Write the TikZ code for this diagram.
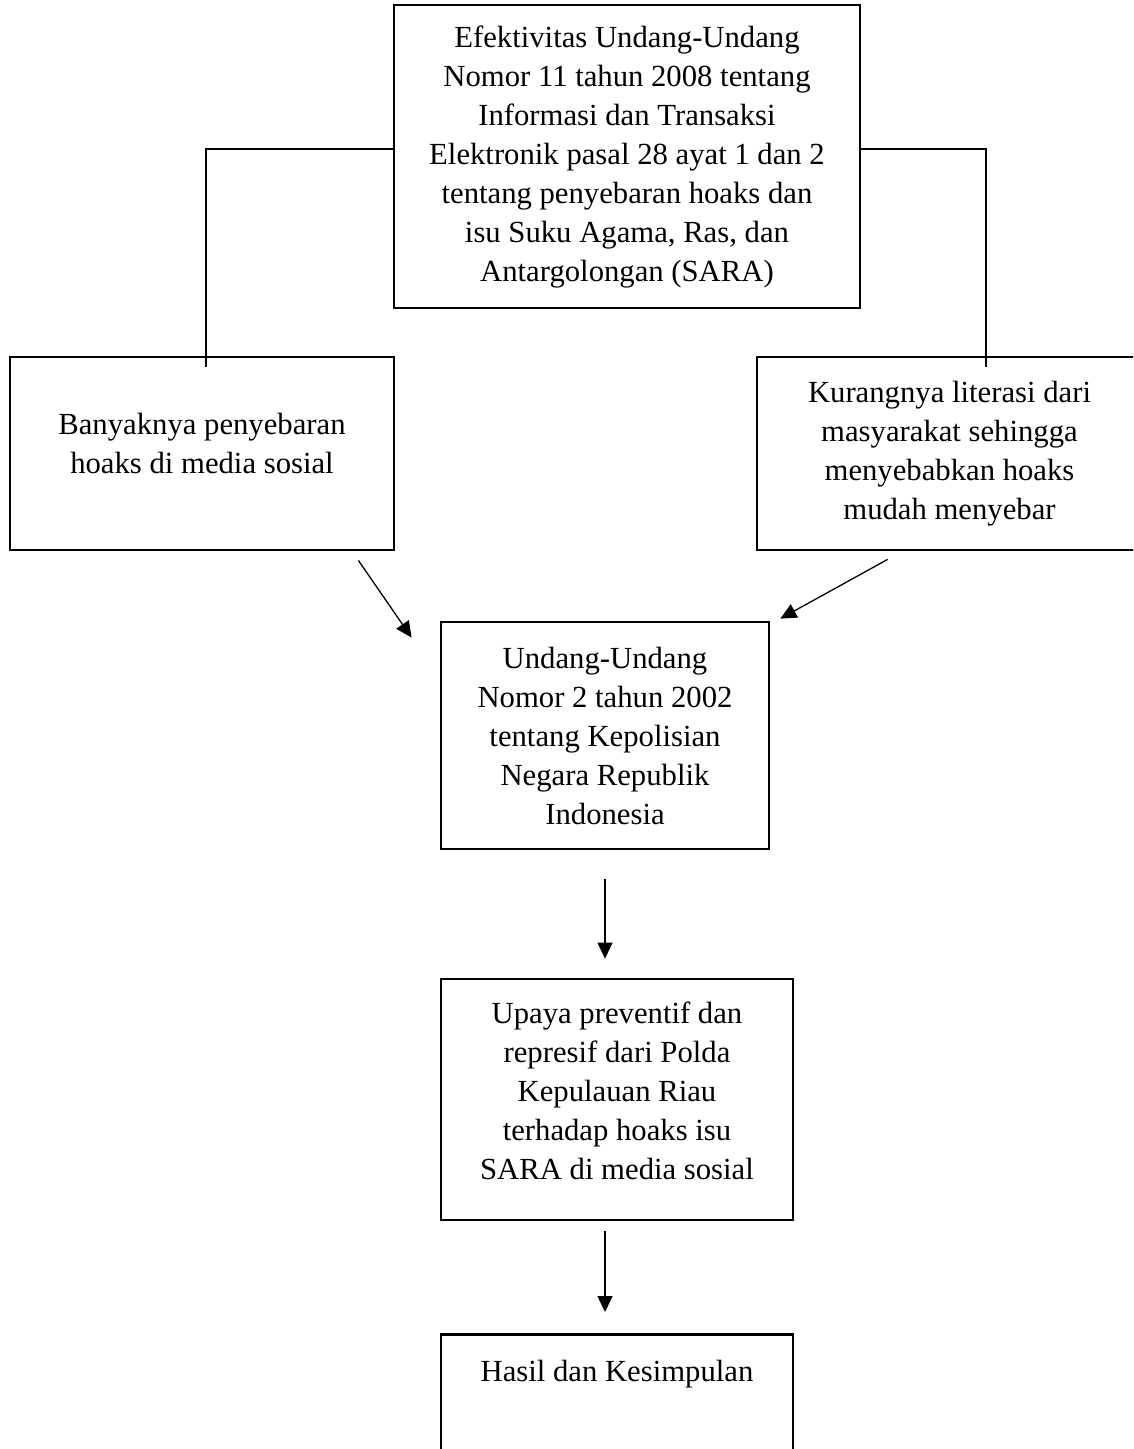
\documentclass[tikz,border=0pt]{standalone}
\usepackage{fontspec}
\setmainfont{Liberation Serif}
\usetikzlibrary{arrows.meta}
\begin{document}
\begin{tikzpicture}[x=1pt,y=-1pt,
  txt/.style={inner sep=0pt, align=center, font=\fontsize{30.7}{39}\selectfont},
  box/.style={draw, line width=2.8pt, txt},
  conn/.style={line width=1.3pt},
  arr/.style={line width=1.3pt, -{Triangle[length=16pt,width=15pt]}}]
\useasboundingbox (0,0) rectangle (1133,1449);
\clip (0,0) rectangle (1133,1449);
\node[box, minimum width=466pt, minimum height=303pt] (top) at (627,156.5)
  {Efektivitas Undang-Undang\\Nomor 11 tahun 2008 tentang\\Informasi dan Transaksi\\Elektronik pasal 28 ayat 1 dan 2\\tentang penyebaran hoaks dan\\isu Suku Agama, Ras, dan\\Antargolongan (SARA)};
\node[box, minimum width=384pt, minimum height=193pt,
  label={[txt, yshift=10pt]center:{Banyaknya penyebaran\\hoaks di media sosial}}] (left) at (202,453.5) {};
\node[box, minimum width=385pt, minimum height=193pt] (right) at (949.5,453.5)
  {Kurangnya literasi dari\\masyarakat sehingga\\menyebabkan hoaks\\mudah menyebar};
\node[box, minimum width=328pt, minimum height=227pt] (mid) at (605,735.5)
  {Undang-Undang\\Nomor 2 tahun 2002\\tentang Kepolisian\\Negara Republik\\Indonesia};
\node[box, minimum width=352pt, minimum height=241pt,
  label={[txt, yshift=9pt]center:{Upaya preventif dan\\represif dari Polda\\Kepulauan Riau\\terhadap hoaks isu\\SARA di media sosial}}] (upaya) at (617,1099.5) {};
\node[box, anchor=north, minimum width=352pt, inner ysep=20pt, text height=27pt, text depth=80pt] (hasil) at (617,1333)
  {Hasil dan Kesimpulan};
\coordinate (lt) at (206,367);
\coordinate (rt) at (986,367);
\draw[conn] ([yshift=7.5pt]top.west) -| (lt);
\draw[conn] ([yshift=7.5pt]top.east) -| (rt);
\draw[arr] ([xshift=-37pt,yshift=-9pt]left.south east) -- ([xshift=-28pt,yshift=-17pt]mid.north west);
\draw[arr] ([xshift=132pt,yshift=-8pt]right.south west) -- ([xshift=10pt,yshift=2pt]mid.north east);
\draw[arr] ([yshift=-29pt]mid.south) -- ([yshift=19pt]upaya.north -| mid.south);
\draw[arr] ([yshift=-10pt]upaya.south -| mid.south) -- ([yshift=21pt]hasil.north -| mid.south);
\end{tikzpicture}
\end{document}
